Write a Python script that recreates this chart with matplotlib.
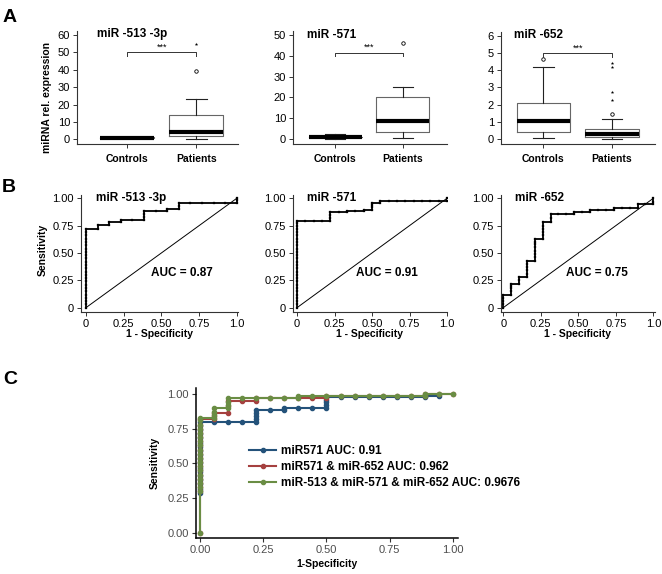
import numpy as np
import matplotlib.pyplot as plt

W, H = 662, 574
plt.rcParams['font.family'] = ['Liberation Sans', 'DejaVu Sans']

# ---------------- panel A : box plot values
groups = ['Controls', 'Patients']
a_titles = ['miR -513 -3p', 'miR -571', 'miR -652']
a_med = [[1.0, 4.0], [1.0, 8.8], [1.05, 0.29]]
a_q1 = [[0.85, 2.1], [0.8, 3.5], [0.44, 0.12]]
a_q3 = [[1.25, 14.0], [1.2, 20.2], [2.08, 0.6]]
a_lo = [[0.7, 0.0], [0.2, 0.5], [0.06, 0.0]]
a_hi = [[1.4, 23.4], [2.4, 25.1], [4.2, 1.16]]
a_out = [[[], [39.5]], [[], [46.0]], [[4.65], [1.45]]]
a_ext = [[[], [55.0]], [[], []], [[], [2.25, 2.75, 4.2, 4.4]]]
a_sig = [50, 41.5, 5.0]
a_yticks = [[0, 10, 20, 30, 40, 50, 60], [0, 10, 20, 30, 40, 50], [0, 1, 2, 3, 4, 5, 6]]

# ---------------- panel B : single marker ROC curves (tpr values at each fpr)
b_titles = ['miR -513 -3p', 'miR -571', 'miR -652']
b_auc = ['AUC = 0.87', 'AUC = 0.91', 'AUC = 0.75']
b513_fpr = [0.0, 0.077, 0.154, 0.231, 0.308, 0.385, 0.462, 0.538, 0.615, 0.692, 0.769, 0.846, 0.923, 1.0]
b513_tpr = [[0.0, 0.03, 0.06, 0.09, 0.12, 0.15, 0.18, 0.21, 0.24, 0.27, 0.3, 0.33, 0.36, 0.39, 0.42,
             0.45, 0.48, 0.51, 0.54, 0.57, 0.6, 0.63, 0.66, 0.69, 0.72],
            [0.72, 0.755], [0.755, 0.786], [0.786, 0.80], [0.80], [0.80, 0.83, 0.86, 0.88], [0.88],
            [0.88, 0.90], [0.90, 0.93, 0.96], [0.96], [0.96], [0.96], [0.96], [0.96, 0.98, 1.0]]
b571_fpr = [0.0, 0.056, 0.111, 0.167, 0.222, 0.278, 0.333, 0.389, 0.444, 0.5, 0.556, 0.611, 0.667,
            0.722, 0.778, 0.833, 0.889, 0.944, 1.0]
b571_tpr = [[0.0, 0.03, 0.06, 0.09, 0.12, 0.15, 0.18, 0.21, 0.24, 0.27, 0.3, 0.33, 0.36, 0.39, 0.42,
             0.45, 0.48, 0.51, 0.54, 0.57, 0.6, 0.63, 0.66, 0.69, 0.72, 0.75, 0.77, 0.79],
            [0.79], [0.79], [0.79], [0.79, 0.82, 0.85, 0.87], [0.87], [0.87, 0.88], [0.88], [0.88, 0.89],
            [0.89, 0.92, 0.94, 0.96], [0.96, 0.978], [0.978], [0.978], [0.978], [0.978], [0.978], [0.978],
            [0.978], [0.978, 1.0]]
b652_fpr = [0.0, 0.053, 0.105, 0.158, 0.211, 0.263, 0.316, 0.368, 0.421, 0.474, 0.526, 0.579, 0.632,
            0.684, 0.737, 0.789, 0.842, 0.895, 0.947, 1.0]
b652_tpr = [[0.0, 0.03, 0.06, 0.09, 0.12], [0.12, 0.15, 0.18, 0.2, 0.22], [0.22, 0.25, 0.28],
            [0.28, 0.31, 0.34, 0.37, 0.40, 0.43], [0.43, 0.46, 0.49, 0.52, 0.55, 0.58, 0.6, 0.625],
            [0.625, 0.66, 0.69, 0.72, 0.75, 0.786], [0.786, 0.82, 0.86], [0.86], [0.86], [0.86, 0.875],
            [0.875], [0.875, 0.89], [0.89], [0.89], [0.89, 0.91], [0.91], [0.91], [0.91, 0.945],
            [0.945], [0.945, 0.97, 1.0]]

# ---------------- panel C : combined ROC curves
c_fpr = [0.0, 0.056, 0.111, 0.167, 0.222, 0.278, 0.333, 0.389, 0.444, 0.5, 0.556, 0.611, 0.667,
         0.722, 0.778, 0.833, 0.889, 0.944, 1.0]
c571_tpr = [[0.29, 0.32, 0.35, 0.38, 0.41, 0.44, 0.47, 0.50, 0.53, 0.56, 0.59, 0.62, 0.65, 0.68, 0.71,
             0.74, 0.77, 0.80],
            [0.80], [0.80], [0.80], [0.80, 0.82, 0.84, 0.86, 0.885], [0.885], [0.885, 0.90], [0.90],
            [0.90], [0.90, 0.92, 0.94, 0.96, 0.976], [0.976], [0.976], [0.976], [0.976], [0.976],
            [0.976], [0.976, 0.988], [0.988]]
c2_tpr = [[0.0, 0.30, 0.33, 0.36, 0.39, 0.42, 0.45, 0.48, 0.51, 0.54, 0.57, 0.60, 0.63, 0.66, 0.69,
           0.72, 0.75, 0.78, 0.82],
          [0.82, 0.84, 0.866], [0.866, 0.91, 0.952], [0.952], [0.952, 0.971], [0.971], [0.971],
          [0.971], [0.971], [0.971, 0.988], [0.988], [0.988], [0.988], [0.988], [0.988], [0.988],
          [0.988, 1.0], [1.0], [1.0]]
c3_tpr = [[0.0, 0.30, 0.33, 0.36, 0.39, 0.42, 0.45, 0.48, 0.51, 0.54, 0.57, 0.60, 0.63, 0.66, 0.69,
           0.72, 0.75, 0.78, 0.81, 0.83],
          [0.83, 0.85, 0.87, 0.90], [0.90, 0.92, 0.94, 0.971], [0.971], [0.971], [0.971], [0.971],
          [0.971, 0.988], [0.988], [0.988], [0.988], [0.988], [0.988], [0.988], [0.988], [0.988],
          [0.988, 1.0], [1.0], [1.0]]
c_labels = ['miR571 AUC: 0.91', 'miR571 & miR-652 AUC: 0.962', 'miR-513 & miR-571 & miR-652 AUC: 0.9676']
c_colors = ['#24527a', '#a5403f', '#6a8d44']


def flat(fprs, tprs):
    xs, ys = [], []
    for f, col in zip(fprs, tprs):
        for t in col:
            xs.append(f)
            ys.append(t)
    return xs, ys


def add_ax(x0, x1, y0, y1):
    return fig.add_axes([x0 / W, 1 - y1 / H, (x1 - x0) / W, (y1 - y0) / H])


def ftext(x, y, s, **kw):
    fig.text(x / W, 1 - y / H, s, **kw)


def style(ax, col='#333333'):
    for s in ['top', 'right']:
        ax.spines[s].set_visible(False)
    for s in ['left', 'bottom']:
        ax.spines[s].set_color(col)
        ax.spines[s].set_linewidth(0.8)
    ax.tick_params(length=3, width=0.7, color=col, labelsize=8, pad=2)


fig = plt.figure(figsize=(W / 100, H / 100), dpi=100)

# ---------------- A
a_rect = [(77, 238, 31.5, 144), (293, 447, 31.5, 144.3), (501, 655, 31.5, 144.3)]
a_xlim = [(0.28, 2.6), (0.38, 2.65), (0.384, 2.626)]
a_ylim = [(-2.7, 62), (-2.55, 51.7), (-0.29, 6.24)]
a_tx = [97, 307, 514]
for i in range(3):
    ax = add_ax(*a_rect[i])
    stats = []
    for j, g in enumerate(groups):
        stats.append(dict(med=a_med[i][j], q1=a_q1[i][j], q3=a_q3[i][j], whislo=a_lo[i][j],
                          whishi=a_hi[i][j], fliers=a_out[i][j], label=g))
    ax.bxp(stats, positions=[1, 2], widths=0.78, capwidths=0.3,
           boxprops=dict(color='#666666', lw=0.8),
           medianprops=dict(color='k', lw=3, solid_capstyle='butt'),
           whiskerprops=dict(color='#222222', lw=0.8),
           capprops=dict(color='#222222', lw=0.8),
           flierprops=dict(marker='o', ms=2.5, mfc='white', mec='k', mew=0.6))
    for j in range(2):
        if a_ext[i][j]:
            ax.plot([j + 1] * len(a_ext[i][j]), a_ext[i][j], ls='none', marker='*', ms=2.6,
                    mew=0, color='k')
    ymax = a_yticks[i][-1]
    d = 0.035 * ymax
    sig = a_sig[i]
    ax.plot([1, 1, 2, 2], [sig - d, sig, sig, sig - d], color='#333333', lw=0.7)
    ax.text(1.5, sig + 0.005 * ymax, '***', ha='center', va='bottom', fontsize=6.5)
    ax.set_xlim(*a_xlim[i])
    ax.set_ylim(*a_ylim[i])
    ax.set_yticks(a_yticks[i])
    style(ax)
    ax.tick_params(axis='x', pad=4)
    ax.set_xticklabels(groups, fontsize=7.5, fontweight='bold')
    ftext(a_tx[i], 34.5, a_titles[i], fontsize=8.5, fontweight='bold', ha='left', va='center')

ftext(47, 97, 'miRNA rel. expression', rotation=90, fontsize=7.5, fontweight='bold',
      ha='center', va='center')

# ---------------- B
b_rect = [(81, 238, 195, 311.7), (292.7, 447, 195, 311.7), (501, 655, 195, 311.7)]
b_xlim = [(-0.033, 1.008), (-0.029, 1.0), (-0.015, 1.011)]
b_tx = [96, 307, 515]
b_auc_xy = [(182, 272.7), (387, 272.7), (597, 272.7)]
b_data = [(b513_fpr, b513_tpr), (b571_fpr, b571_tpr), (b652_fpr, b652_tpr)]
for i in range(3):
    ax = add_ax(*b_rect[i])
    xs, ys = flat(*b_data[i])
    ax.plot([0, 1], [0, 1], color='k', lw=0.7)
    ax.plot(xs, ys, color='k', lw=1.3, marker='s', ms=2.1, mfc='k', mec='k', mew=0.2)
    ax.set_xlim(*b_xlim[i])
    ax.set_ylim(-0.037, 1.03)
    ax.set_xticks([0, 0.25, 0.5, 0.75, 1.0])
    ax.set_xticklabels(['0', '0.25', '0.50', '0.75', '1.0'])
    ax.set_yticks([0, 0.25, 0.5, 0.75, 1.0])
    ax.set_yticklabels(['0', '0.25', '0.50', '0.75', '1.00'])
    style(ax)
    ax.set_xlabel('1 - Specificity', fontsize=7.5, fontweight='bold', labelpad=0)
    ftext(b_tx[i], 198, b_titles[i], fontsize=8.5, fontweight='bold', ha='left', va='center')
    ftext(b_auc_xy[i][0], b_auc_xy[i][1], b_auc[i], fontsize=8.5, fontweight='bold',
          ha='center', va='center')

ftext(43, 250, 'Sensitivity', rotation=90, fontsize=7.5, fontweight='bold', ha='center', va='center')

# ---------------- C
ax = add_ax(196, 458, 388, 538)
for tprs, lab, col in zip([c571_tpr, c2_tpr, c3_tpr], c_labels, c_colors):
    xs, ys = flat(c_fpr, tprs)
    ax.plot(xs, ys, color=col, lw=1.5, marker='o', ms=3, label=lab)
ax.set_xlim(-0.016, 1.02)
ax.set_ylim(-0.036, 1.043)
ticks = [0, 0.25, 0.5, 0.75, 1.0]
ax.set_xticks(ticks)
ax.set_yticks(ticks)
ax.set_xticklabels(['%.2f' % t for t in ticks])
ax.set_yticklabels(['%.2f' % t for t in ticks])
for s in ['top', 'right']:
    ax.spines[s].set_visible(False)
for s in ['left', 'bottom']:
    ax.spines[s].set_color('k')
    ax.spines[s].set_linewidth(1.1)
ax.tick_params(length=3, width=0.8, color='#333333', labelsize=8, labelcolor='#4d4d4d', pad=2)
ax.set_xlabel('1-Specificity', fontsize=7.5, fontweight='bold', labelpad=3)
ax.set_ylabel('Sensitivity', fontsize=7.5, fontweight='bold', labelpad=6)
ax.legend(loc='upper left', bbox_to_anchor=(249 / W, 1 - 445 / H), bbox_transform=fig.transFigure,
          frameon=False, borderpad=0, borderaxespad=0, handlelength=2.3, handletextpad=0.45,
          labelspacing=0.35, prop=dict(size=8.5, weight='bold'))

ftext(10, 17, 'A', fontsize=14, fontweight='bold', ha='center', va='center')
ftext(9, 188, 'B', fontsize=14, fontweight='bold', ha='center', va='center')
ftext(10, 380, 'C', fontsize=14, fontweight='bold', ha='center', va='center')

fig.savefig('out.png', dpi=100)
